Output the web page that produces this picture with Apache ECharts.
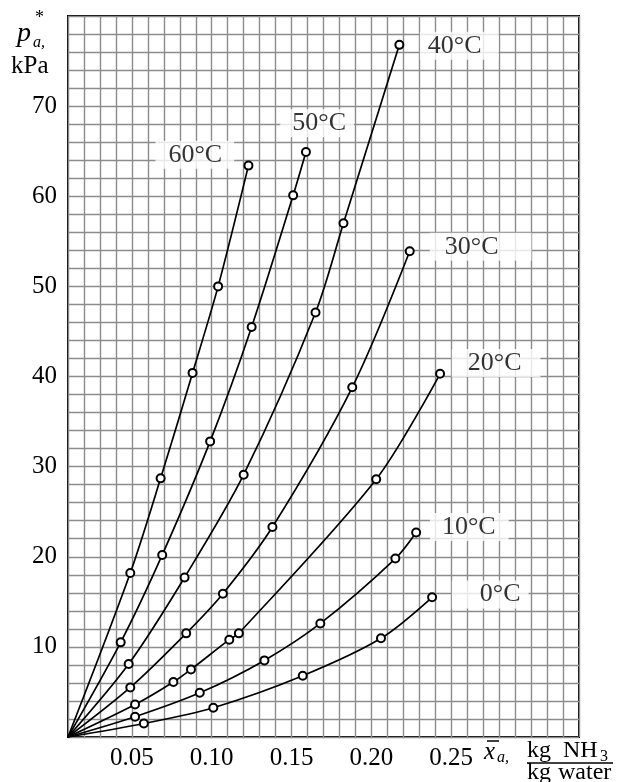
<!DOCTYPE html>
<html><head><meta charset="utf-8">
<script src="https://cdn.jsdelivr.net/npm/echarts@6.0.0/dist/echarts.min.js"></script>
<style>html,body{margin:0;padding:0;background:#fff}#c{width:619px;height:782px}</style>
</head><body><div id="c"></div>
<script>
// ---- data ----
const temps = ['60°C', '50°C', '40°C', '30°C', '20°C', '10°C', '0°C'];
const x60 = [0.039, 0.058, 0.078, 0.094, 0.113];
const p60 = [18.2, 28.7, 40.4, 50.0, 63.4];
const x50 = [0.033, 0.059, 0.089, 0.115, 0.141, 0.149];
const p50 = [10.5, 20.2, 32.8, 45.5, 60.1, 64.9];
const x40 = [0.038, 0.073, 0.110, 0.155, 0.1725, 0.2075];
const p40 = [8.1, 17.7, 29.1, 47.1, 57.0, 76.8];
const x30 = [0.039, 0.074, 0.097, 0.128, 0.178, 0.214];
const p30 = [5.5, 11.5, 15.9, 23.3, 38.8, 53.9];
const x20 = [0.042, 0.066, 0.077, 0.101, 0.107, 0.193, 0.233];
const p20 = [3.6, 6.1, 7.5, 10.8, 11.5, 28.6, 40.3];
const x10 = [0.042, 0.0825, 0.123, 0.158, 0.205, 0.218];
const p10 = [2.25, 4.9, 8.5, 12.6, 19.8, 22.7];
const x0 = [0.0475, 0.091, 0.147, 0.196, 0.228];
const p0 = [1.5, 3.25, 6.8, 10.95, 15.5];
// label anchor positions (data coords)
const labelX = [0.0794, 0.156, 0.245, 0.2584, 0.2681, 0.2513, 0.2644];
const labelY = [64.6, 68.1, 76.7, 54.4, 41.5, 23.3, 15.8];
const xTickLabels = [0.05, 0.10, 0.15, 0.20, 0.25];
const yTickLabels = [10, 20, 30, 40, 50, 60, 70];

const xs = [x60, x50, x40, x30, x20, x10, x0];
const ps = [p60, p50, p40, p30, p20, p10, p0];
const labelPad = [[1,12,1,13],[1,8,1,12],[1,17,1,8],[1,33,1,15],[1,19,1,16],[1,13,1,12],[1,8,1,28]];

const FONT = '"Liberation Serif", "Times New Roman", serif';
const chart = echarts.init(document.getElementById('c'), null, {renderer: 'canvas'});

const series = [];
temps.forEach((t, i) => {
  const d = [[0, 0]].concat(xs[i].map((x, k) => [x, ps[i][k]]));
  series.push({
    type: 'line', name: t, data: d, smooth: 0.3,
    symbol: 'emptyCircle', showAllSymbol: true,
    symbolSize: (v, p) => p.dataIndex === 0 ? 0 : 8,
    lineStyle: {color: '#000', width: 1.7},
    itemStyle: {color: '#000', borderWidth: 1.6},
    emphasis: {disabled: true}, z: 3
  });
});
series.push({
  type: 'scatter', symbolSize: 1, itemStyle: {color: 'rgba(0,0,0,0)'},
  data: temps.map((t, i) => ({value: [labelX[i], labelY[i]], name: t,
    label: {padding: labelPad[i]}})),
  label: {show: true, position: 'inside', formatter: p => p.name,
    fontFamily: FONT, fontSize: 26, color: '#000', backgroundColor: '#fff', lineHeight: 26},
  z: 5, silent: true
});

chart.setOption({
  animation: false,
  backgroundColor: '#fff',
  grid: {left: 68, right: 40, top: 16, bottom: 45, show: true, borderColor: '#000', borderWidth: 2, backgroundColor: 'transparent'},
  xAxis: {
    type: 'value', min: 0, max: 0.32, interval: 0.01,
    axisLine: {show: false}, axisTick: {show: false},
    splitLine: {show: true, lineStyle: {color: '#8c8c8c', width: 1.4}},
    axisLabel: {
      fontFamily: FONT, fontSize: 25, color: '#000', margin: 9, padding: [0, 32, 0, 0],
      formatter: v => {
        const m = xTickLabels.find(t => Math.abs(t - v) < 1e-6);
        return m !== undefined ? m.toFixed(2) : '';
      }
    }
  },
  yAxis: {
    type: 'value', min: 0, max: 80, interval: 2,
    axisLine: {show: false}, axisTick: {show: false},
    splitLine: {show: true, lineStyle: {color: '#8c8c8c', width: 1.4}},
    axisLabel: {
      fontFamily: FONT, fontSize: 25, color: '#000', margin: 11,
      formatter: v => yTickLabels.indexOf(Math.round(v)) >= 0 && Math.abs(v - Math.round(v)) < 1e-6 ? String(Math.round(v)) : ''
    }
  },
  graphic: [
    {type: 'text', x: 17, y: 20, style: {text: 'p', font: 'italic 28px ' + FONT, fill: '#000'}},
    {type: 'text', x: 33, y: 35, style: {text: 'a,', font: 'italic 16px ' + FONT, fill: '#000'}},
    {type: 'text', x: 35, y: 9, style: {text: '*', font: '18px ' + FONT, fill: '#000'}},
    {type: 'text', x: 11, y: 54, style: {text: 'kPa', font: '25px ' + FONT, fill: '#000'}},
    {type: 'line', shape: {x1: 487, y1: 741, x2: 499, y2: 741}, style: {stroke: '#000', lineWidth: 1.5}},
    {type: 'text', x: 484, y: 740, style: {text: 'x', font: 'italic 25px ' + FONT, fill: '#000'}},
    {type: 'text', x: 497, y: 750, style: {text: 'a,', font: 'italic 16px ' + FONT, fill: '#000'}},
    {type: 'text', x: 527, y: 739, style: {text: 'kg', font: '24px ' + FONT, fill: '#000'}},
    {type: 'text', x: 563, y: 739, style: {text: 'NH', font: '24px ' + FONT, fill: '#000'}},
    {type: 'text', x: 600, y: 749, style: {text: '3', font: '16px ' + FONT, fill: '#000'}},
    {type: 'line', shape: {x1: 527, y1: 763, x2: 613, y2: 763}, style: {stroke: '#000', lineWidth: 1.5}},
    {type: 'text', x: 527, y: 761, style: {text: 'kg', font: '24px ' + FONT, fill: '#000'}},
    {type: 'text', x: 558, y: 761, style: {text: 'water', font: '24px ' + FONT, fill: '#000'}}
  ],
  series: series
});
</script></body></html>
